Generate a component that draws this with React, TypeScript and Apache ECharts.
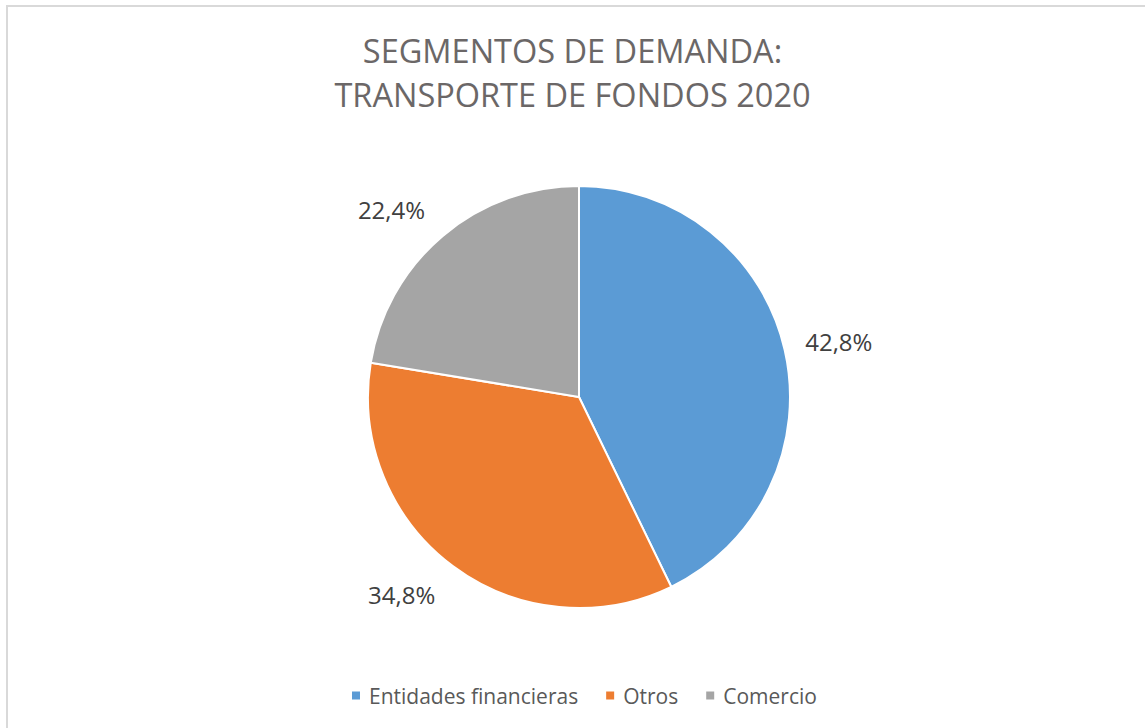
import React, { useEffect, useRef } from "react";
import * as echarts from "echarts";

const titleLines = ["SEGMENTOS DE DEMANDA:", "TRANSPORTE DE FONDOS 2020"];
const categories = ["Entidades financieras", "Otros", "Comercio"];
const values = [42.8, 34.8, 22.4];
const colors = ["#5B9BD5", "#ED7D31", "#A5A5A5"];
const labelNudge = [
  { dx: 0, dy: -5 },
  { dx: -3, dy: 16 },
  { dx: -2, dy: -14 },
];

const fmt = (v: number) => v.toFixed(1).replace(".", ",") + "%";

export default function App() {
  const ref = useRef<HTMLDivElement>(null);
  useEffect(() => {
    if (!ref.current) return;
    const chart = echarts.init(ref.current, null, { renderer: "svg" });
    chart.setOption({
      animation: false,
      backgroundColor: "#ffffff",
      title: {
        text: titleLines.join("\n"),
        left: "center",
        top: 23,
        textStyle: {
          fontFamily: "Open Sans",
          fontSize: 32.5,
          fontWeight: "normal",
          color: "#6b6767",
          lineHeight: 44.5,
        },
      },
      graphic: [
        {
          type: "rect",
          shape: { x: 7, y: 6, width: 1300, height: 900 },
          style: { fill: "none", stroke: "#d9d9d9", lineWidth: 2 },
          silent: true,
        },
      ],
      legend: {
        bottom: 17,
        left: 345,
        itemWidth: 10,
        itemHeight: 10,
        itemGap: 26,
        icon: "rect",
        textStyle: {
          fontFamily: "Open Sans",
          fontSize: 21,
          color: "#595959",
          padding: [0, 0, 0, 3],
        },
        data: categories,
      },
      series: [
        {
          type: "pie",
          center: [579, 397],
          radius: 211,
          startAngle: 90,
          clockwise: true,
          avoidLabelOverlap: false,
          itemStyle: { borderColor: "#ffffff", borderWidth: 2 },
          label: {
            show: true,
            position: "outside",
            formatter: (p: any) => fmt(p.value),
            fontFamily: "Open Sans",
            fontSize: 24,
            color: "#404040",
          },
          labelLine: { show: false, length: 16, length2: 0 },
          labelLayout: (p: any) => labelNudge[p.dataIndex],
          data: categories.map((name, i) => ({
            name,
            value: values[i],
            itemStyle: { color: colors[i] },
          })),
        },
      ],
    });
    return () => chart.dispose();
  }, []);
  return (
    <div
      style={{
        position: "fixed",
        left: 0,
        top: 0,
        width: 1145,
        height: 728,
        overflow: "hidden",
        background: "#fff",
      }}
    >
      <div ref={ref} style={{ width: 1145, height: 728 }} />
    </div>
  );
}
